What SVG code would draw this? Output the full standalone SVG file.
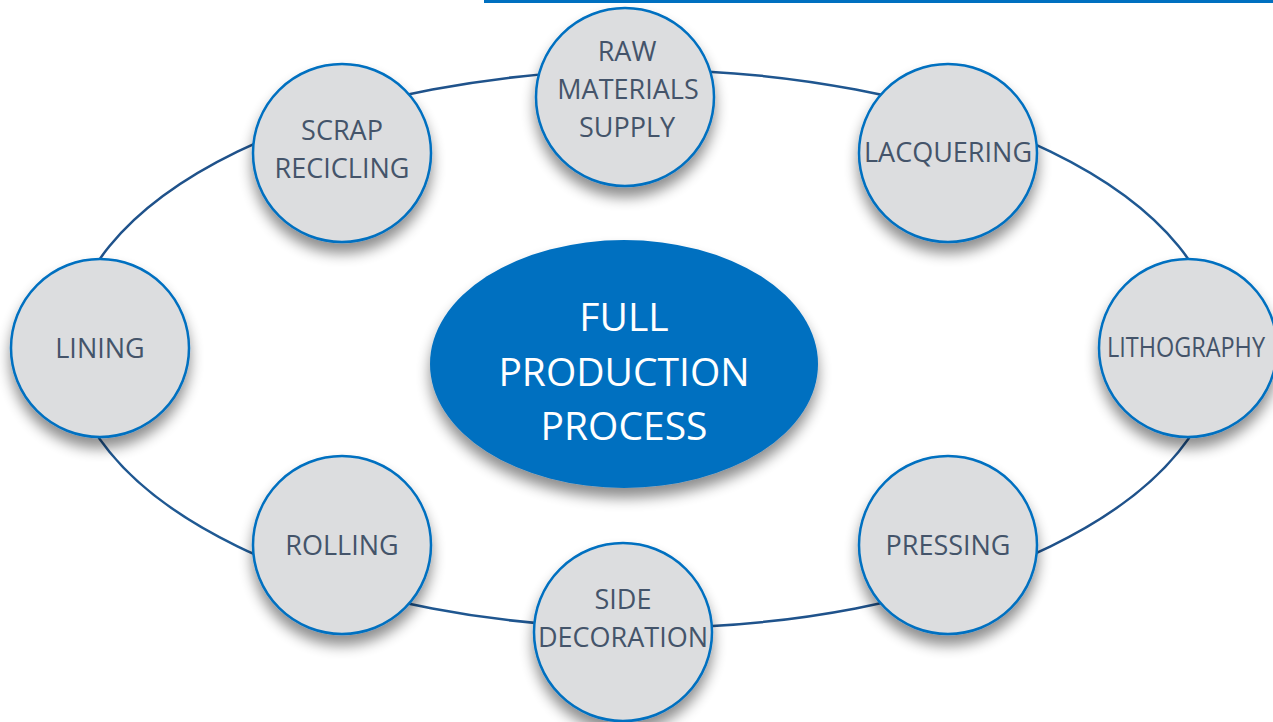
<svg xmlns="http://www.w3.org/2000/svg" width="1273" height="722" viewBox="0 0 1273 722">
<defs>
<filter id="sh" x="-30%" y="-30%" width="160%" height="170%">
<feGaussianBlur in="SourceAlpha" stdDeviation="7"/>
<feOffset dx="0" dy="10" result="b"/>
<feComponentTransfer><feFuncA type="linear" slope="0.45"/></feComponentTransfer>
<feMerge><feMergeNode/><feMergeNode in="SourceGraphic"/></feMerge>
</filter>
<linearGradient id="ring" x1="0" y1="0" x2="1" y2="1">
<stop offset="0" stop-color="#1F4E86"/>
<stop offset="0.5" stop-color="#1F5A94"/>
<stop offset="1" stop-color="#1F4E86"/>
</linearGradient>
</defs>
<style>
.n{fill:#DCDDDF;stroke:#0070C0;stroke-width:2.5;filter:url(#sh)}
.t{font-family:"Open Sans","Liberation Sans",sans-serif;font-size:27px;fill:#44546A;text-anchor:middle}
.c{font-family:"Open Sans","Liberation Sans",sans-serif;font-size:39px;fill:#FFFFFF;text-anchor:middle}
</style>
<rect width="1273" height="722" fill="#FFFFFF"/>
<rect x="484" y="0" width="789" height="3" fill="#0070C0"/>
<g id="connectors">
<ellipse cx="644" cy="349" rx="575" ry="279" fill="none" stroke="url(#ring)" stroke-width="2.5"/>
</g>
<g id="center">
<ellipse cx="624" cy="364" rx="194" ry="124" fill="#0070C0" filter="url(#sh)"/>
<text class="c" x="624" y="331">FULL</text>
<text class="c" x="624" y="386">PRODUCTION</text>
<text class="c" x="624" y="440">PROCESS</text>
</g>
<g id="raw">
<circle class="n" cx="625" cy="97" r="89"/>
<text class="t" x="627" y="61">RAW</text>
<text class="t" x="628" y="99">MATERIALS</text>
<text class="t" x="627" y="137">SUPPLY</text>
</g>
<g id="scrap">
<circle class="n" cx="342" cy="153" r="89"/>
<text class="t" x="342" y="140">SCRAP</text>
<text class="t" x="342" y="178">RECICLING</text>
</g>
<g id="lacquering">
<circle class="n" cx="948" cy="153" r="89"/>
<text class="t" x="948" y="162">LACQUERING</text>
</g>
<g id="lining">
<circle class="n" cx="100" cy="348" r="89"/>
<text class="t" x="100" y="358">LINING</text>
</g>
<g id="lithography">
<circle class="n" cx="1188" cy="348" r="89"/>
<text class="t" x="1186" y="357" font-size="25" textLength="158" lengthAdjust="spacingAndGlyphs">LITHOGRAPHY</text>
</g>
<g id="rolling">
<circle class="n" cx="342" cy="545" r="89"/>
<text class="t" x="342" y="555">ROLLING</text>
</g>
<g id="pressing">
<circle class="n" cx="948" cy="545" r="89"/>
<text class="t" x="948" y="555">PRESSING</text>
</g>
<g id="side">
<circle class="n" cx="623" cy="632" r="89"/>
<text class="t" x="623" y="609">SIDE</text>
<text class="t" x="623" y="647">DECORATION</text>
</g>
</svg>
